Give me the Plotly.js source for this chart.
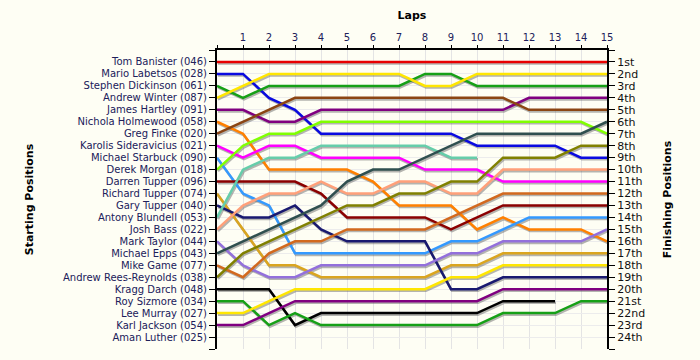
<!DOCTYPE html>
<html>
<head>
<meta charset="utf-8">
<script src="https://cdn.plot.ly/plotly-3.0.1.min.js"></script>
<style>
html,body{margin:0;padding:0;background:#fefef4;}
#chart{width:700px;height:360px;}
</style>
</head>
<body>
<div id="chart"></div>
<script>
// Laps (0 = starting grid)
const laps = [0,1,2,3,4,5,6,7,8,9,10,11,12,13,14,15];
const lapTicks = [0,1,2,3,4,5,6,7,8,9,10,11,12,13,14,15];
const lapTickText = ['','1','2','3','4','5','6','7','8','9','10','11','12','13','14','15'];

// Drivers in starting order
const drivers = [
  'Tom Banister (046)','Mario Labetsos (028)','Stephen Dickinson (061)','Andrew Winter (087)',
  'James Hartley (091)','Nichola Holmewood (058)','Greg Finke (020)','Karolis Sideravicius (021)',
  'Michael Starbuck (090)','Derek Morgan (018)','Darren Tupper (096)','Richard Tupper (074)',
  'Gary Tupper (040)','Antony Blundell (053)','Josh Bass (022)','Mark Taylor (044)',
  'Michael Epps (043)','Mike Game (077)','Andrew Rees-Reynolds (038)','Kragg Darch (048)',
  'Roy Sizmore (034)','Lee Murray (027)','Karl Jackson (054)','Aman Luther (025)'
];

const finishLabels = ['1st','2nd','3rd','4th','5th','6th','7th','8th','9th','10th','11th','12th',
  '13th','14th','15th','16th','17th','18th','19th','20th','21st','22nd','23rd','24th'];

// Position per lap for each driver
const posBanister   = [1,1,1,1,1,1,1,1,1,1,1,1,1,1,1,1];
const posLabetsos   = [2,2,4,5,7,7,7,7,7,7,8,8,8,8,9,9];
const posDickinson  = [3,4,3,3,3,3,3,3,2,2,3,3,3,3,3,3];
const posWinter     = [4,3,2,2,2,2,2,2,3,3,2,2,2,2,2,2];
const posHartley    = [5,5,6,6,5,5,5,5,5,5,5,5,4,4,4,4];
const posHolmewood  = [6,7,10,10,10,10,11,13,13,13,15,14,15,15,15,16];
const posFinke      = [7,6,5,4,4,4,4,4,4,4,4,4,5,5,5,5];
const posSideravicius = [8,9,8,8,9,9,9,9,10,10,10,11,11,11,11,11];
const posStarbuck   = [9,12,13,17,17,17,17,17,17,16,16,15,14,14,14,14];
const posMorgan     = [10,8,7,7,6,6,6,6,6,6,6,6,6,6,6,7];
const posDarrenT    = [11,11,11,11,12,14,14,14,14,15,14,13,13,13,13,13];
const posRichardT   = [12,15,18,18,19,19,19,19,19,18,18,17,17,17,17,17];
const posGaryT      = [13,14,14,13,15,16,16,16,16,20,20,19,19,19,19,19];
const posBlundell   = [14,10,9,9,8,8,8,8,8,9,9];
const posBass       = [15,13,12,12,11,12,12,11,11,12,12,10,10,10,10,10];
const posTaylor     = [16,18,19,19,18,18,18,18,18,17,17,16,16,16,16,15];
const posEpps       = [17,16,15,14,13,11,10,10,9,8,7,7,7,7,7,6];
const posGame       = [18,19,17,16,16,15,15,15,15,14,13,12,12,12,12,12];
const posReesReynolds = [19,17,16,15,14,13,13,12,12,11,11,9,9,9,8,8];
const posDarch      = [20,20,20,23,22,22,22,22,22,22,22,21,21,21];
const posSizmore    = [21,21,23,22,23,23,23,23,23,23,23,22,22,22,21,21];
const posMurray     = [22,22,21,20,20,20,20,20,20,19,19,18,18,18,18,18];
const posJackson    = [23,23,22,21,21,21,21,21,21,21,21,20,20,20,20,20];
const posLuther     = [];

const series = [posBanister,posLabetsos,posDickinson,posWinter,posHartley,posHolmewood,posFinke,
  posSideravicius,posStarbuck,posMorgan,posDarrenT,posRichardT,posGaryT,posBlundell,posBass,
  posTaylor,posEpps,posGame,posReesReynolds,posDarch,posSizmore,posMurray,posJackson,posLuther];

const colors = ['#e80000','#0a0ae0','#16a016','#ffe600','#800080','#ff8000','#8b4513','#ff00ff',
  '#3399ff','#80ff00','#8b0000','#daa520','#191970','#66cdaa','#ffa07a','#9370db',
  '#2f4f4f','#d2691e','#808000','#000000','#16a016','#ffe600','#800080','#888888'];

const nPos = 24;
const posTicks = [];
const posLeftText = [];
const posRightText = [];
for (let i = 0; i <= nPos + 1; i++) {
  posTicks.push(i);
  posLeftText.push(i >= 1 && i <= nPos ? drivers[i-1] : '');
  posRightText.push(i >= 1 && i <= nPos ? finishLabels[i-1] : '');
}

// shadow offsets (in axis units ~ 1.5px down, 1px right)
const plotW = 390, plotH = 299;
const dx = 1 * 15 / plotW;
const dy = 1.6 * 25 / plotH;

const traces = [];
series.forEach((s, i) => {
  if (!s.length) return;
  traces.push({
    x: laps.slice(0, s.length), y: s, xaxis: 'x', yaxis: 'y',
    type: 'scatter', mode: 'lines', hoverinfo: 'skip', showlegend: false,
    line: {color: 'rgba(90,90,90,0.45)', width: 2.5}
  });
});
series.forEach((s, i) => {
  if (!s.length) return;
  traces.push({
    x: laps.slice(0, s.length), y: s, xaxis: 'x2', yaxis: 'y2',
    type: 'scatter', mode: 'lines', name: drivers[i], showlegend: false,
    line: {color: colors[i], width: 2.5}
  });
});
// finishing-position axis carrier (invisible markers at each classified finisher)
const finX = [], finY = [];
series.forEach(s => { if (s.length === laps.length) { finX.push(laps[laps.length-1]); finY.push(s[s.length-1]); } });
traces.push({
  x: finX, y: finY, xaxis: 'x2', yaxis: 'y3', type: 'scatter', mode: 'markers',
  marker: {size: 1, opacity: 0}, hoverinfo: 'skip', showlegend: false
});

const labelFont = {family: 'DejaVu Sans, Verdana, sans-serif', size: 10, color: '#20205a'};
const titleFont = {family: 'DejaVu Sans, Verdana, sans-serif', size: 11, color: '#000000', weight: 'bold'};

const layout = {
  width: 700, height: 360,
  margin: {l: 217, r: 93, t: 50, b: 11, pad: 0},
  paper_bgcolor: '#fefef4', plot_bgcolor: '#fefef4',
  showlegend: false,
  xaxis: {range: [-dx, 15 - dx], visible: false, fixedrange: true},
  yaxis: {range: [25 - dy, -dy], visible: false, fixedrange: true},
  xaxis2: {
    overlaying: 'x', anchor: 'y2', side: 'top', range: [0, 15],
    tickvals: lapTicks, ticktext: lapTickText, tickfont: labelFont,
    ticks: 'outside', ticklen: 3, tickcolor: '#000',
    showline: true, linecolor: '#000', linewidth: 2,
    showgrid: true, gridcolor: '#e4e4e4', gridwidth: 1, zeroline: false,
    title: {text: 'Laps', font: titleFont, standoff: 10}
  },
  yaxis2: {
    overlaying: 'y', anchor: 'x2', side: 'left', range: [25, 0],
    tickvals: posTicks, ticktext: posLeftText, tickfont: labelFont,
    ticks: 'outside', ticklen: 6, tickcolor: '#000',
    showline: true, linecolor: '#000', linewidth: 2,
    showgrid: true, gridcolor: '#ececec', gridwidth: 1, zeroline: false,
    title: {text: 'Starting Positions', font: titleFont, standoff: 27}
  },
  yaxis3: {
    overlaying: 'y', anchor: 'x2', side: 'right', range: [25, 0],
    tickvals: posTicks, ticktext: posRightText,
    tickfont: {family: 'DejaVu Sans, Verdana, sans-serif', size: 11, color: '#111'},
    ticks: 'outside', ticklen: 6, tickcolor: '#000',
    showline: true, linecolor: '#000', linewidth: 2,
    showgrid: false, zeroline: false,
    title: {text: 'Finishing Positions', font: titleFont, standoff: 19}
  }
};

Plotly.newPlot('chart', traces, layout, {staticPlot: true, displayModeBar: false});
</script>
</body>
</html>
